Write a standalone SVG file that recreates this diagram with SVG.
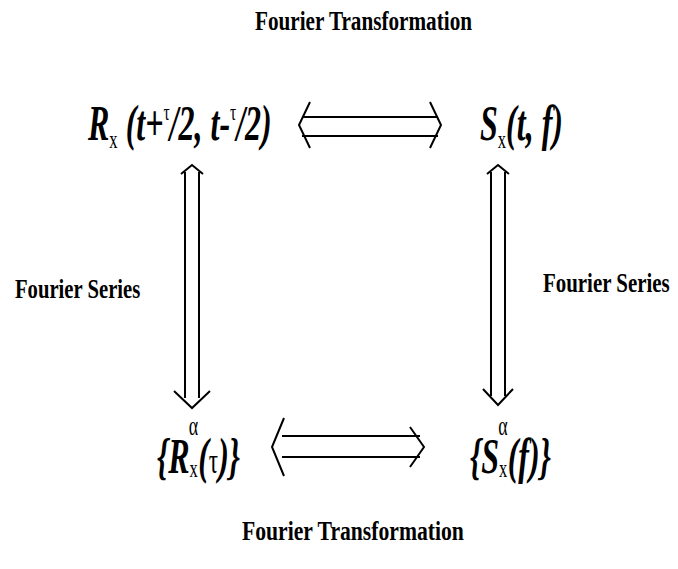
<svg xmlns="http://www.w3.org/2000/svg" width="678" height="569" viewBox="0 0 678 569">
<style>
.lbl{font-family:"Liberation Serif","Times New Roman",serif;font-weight:bold;font-size:27px;fill:#000}
.f{font-family:"Liberation Serif","Times New Roman",serif;font-weight:bold;font-style:italic;font-size:50px;fill:#000}
.up{font-style:normal;font-weight:normal}
.arr{fill:none;stroke:#000;stroke-width:2}
</style>
<rect width="678" height="569" fill="#fff"/>
<g id="label-top" transform="translate(255,30) scale(0.7,1)"><text class="lbl" x="0" y="0" textLength="310" lengthAdjust="spacingAndGlyphs">Fourier Transformation</text></g>
<g id="label-bottom" transform="translate(242,540) scale(0.7,1)"><text class="lbl" x="0" y="0" textLength="317" lengthAdjust="spacingAndGlyphs">Fourier Transformation</text></g>
<g id="label-left" transform="translate(15,298) scale(0.7,1)"><text class="lbl" x="0" y="0" textLength="179" lengthAdjust="spacingAndGlyphs">Fourier Series</text></g>
<g id="label-right" transform="translate(543,292) scale(0.7,1)"><text class="lbl" x="0" y="0" textLength="181" lengthAdjust="spacingAndGlyphs">Fourier Series</text></g>
<g id="node-R" transform="translate(88,140) scale(0.64,1)">
<text class="f" x="0" y="0">R<tspan class="up" font-size="26" dy="8">x</tspan><tspan dy="-8"> (t+</tspan><tspan class="up" font-size="24" dy="-20">τ</tspan><tspan dy="20">/2, t-</tspan><tspan class="up" font-size="24" dy="-20">τ</tspan><tspan dy="20">/2)</tspan></text>
</g>
<g id="node-S" transform="translate(480,140) scale(0.64,1)">
<text class="f" x="0" y="0">S<tspan class="up" font-size="26" dy="8">x</tspan><tspan dy="-8">(t, f)</tspan></text>
</g>
<g id="node-Ra" transform="translate(157,473) scale(0.64,1)">
<text class="f" x="0" y="0">{R<tspan class="up" font-size="26" dy="4">x</tspan><tspan class="up" font-size="28" dx="-14" dy="-42">α</tspan><tspan dy="38" dx="0">(</tspan><tspan class="up" font-size="36">τ</tspan>)}</text>
</g>
<g id="node-Sa" transform="translate(470,473) scale(0.64,1)">
<text class="f" x="0" y="0">{S<tspan class="up" font-size="26" dy="4">x</tspan><tspan class="up" font-size="28" dx="-14" dy="-42">α</tspan><tspan dy="38" dx="0">(f)}</tspan></text>
</g>
<g id="connectors">
<path class="arr" d="M302 117H438M302 136H438M310 102L299 125L310 148M430 102L441 125L430 148"/>
<path class="arr" d="M282 436H420M282 457H420M284 418L272 447L284 476M410 427L424 447L410 467"/>
<path class="arr" d="M185 172V398M199 172V398M181 174L192 165L203 174M174 391L192 408L210 391"/>
<path class="arr" d="M491 172V396M505 172V396M487 174L498 165L509 174M483 389L498 405L513 389"/>
</g>
</svg>
